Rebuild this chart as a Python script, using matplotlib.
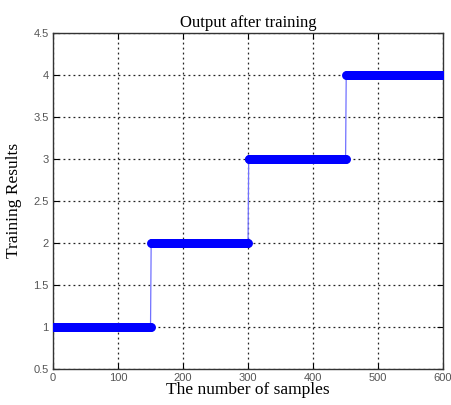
import matplotlib
matplotlib.use('Agg')
import matplotlib.pyplot as plt
import numpy as np

# class levels and number of samples per class
levels = [1, 2, 3, 4]
counts = [150, 150, 150, 150]

x_ticks = [0, 100, 200, 300, 400, 500, 600]
y_ticks = [0.5, 1, 1.5, 2, 2.5, 3, 3.5, 4, 4.5]

y = np.repeat(levels, counts)
x = np.arange(1, len(y) + 1)

fig = plt.figure(figsize=(4.51, 4.05), dpi=100)
ax = fig.add_axes([0.1175, 0.089, 0.865, 0.83])

ax.plot(x, y, color='#7070ff', linewidth=0.9, zorder=2)
ax.plot(x, y, 'o', color='#0000ff', markersize=5, markeredgewidth=1.4,
        linestyle='none', zorder=3)

ax.set_xlim(0, 600)
ax.set_ylim(0.5, 4.5)
ax.set_xticks(x_ticks)
ax.set_yticks(y_ticks)
ax.set_xticklabels([str(t) for t in x_ticks])
ax.set_yticklabels(['0.5', '1', '1.5', '2', '2.5', '3', '3.5', '4', '4.5'])
ax.tick_params(direction='in', length=4, labelsize=8, labelcolor='#555555',
               top=True, right=True, pad=3)
for lab in ax.get_xticklabels() + ax.get_yticklabels():
    lab.set_family('Liberation Sans')

ax.grid(True, linestyle=(0, (1.5, 2.5)), color='#222222', linewidth=0.9)
for s in ax.spines.values():
    s.set_linewidth(1.0)
    s.set_color('#333333')

ax.set_title('Output after training', family='Liberation Serif', fontsize=12, pad=4)
ax.set_xlabel('The number of samples', family='Liberation Serif', fontsize=12.5, labelpad=-1)
ax.set_ylabel('Training Results', family='Liberation Serif', fontsize=12.5, labelpad=8)

fig.savefig('out.png', dpi=100)
